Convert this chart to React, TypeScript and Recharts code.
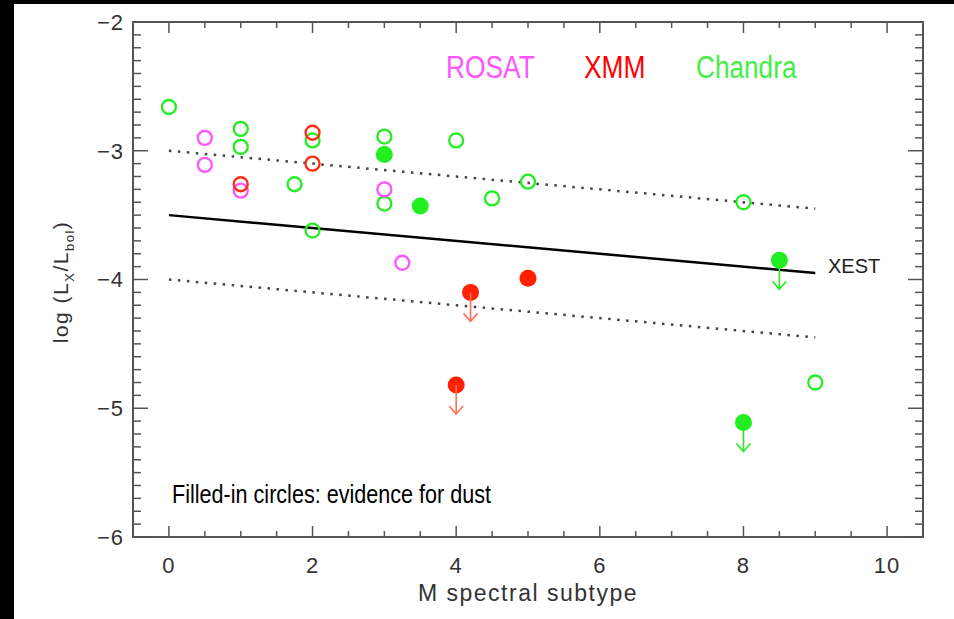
import React from "react";
import { ScatterChart, Scatter, XAxis, YAxis, ReferenceArea } from "recharts";

// axis ticks (labels at the majors, inward marks at every entry)
const xTicks = [0, 2, 4, 6, 8, 10];
const yTicks = [-6, -5, -4, -3, -2];
const xMinorTicks = Array.from({ length: 21 }, (_, i) => i * 0.5);
const yMinorTicks = Array.from({ length: 41 }, (_, i) => Math.round((-6 + i * 0.1) * 10) / 10);

// [subtype, log Lx/Lbol]  (filled series: third value 1 = upper limit arrow)
const rosatOpen: number[][] = [
  [0.5, -2.9],
  [0.5, -3.11],
  [1, -3.31],
  [3, -3.3],
  [3.25, -3.87],
];
const xmmOpen: number[][] = [
  [1, -3.26],
  [2, -2.86],
  [2, -3.1],
];
const xmmFilled: number[][] = [
  [4.2, -4.1, 1],
  [5, -3.99, 0],
  [4, -4.82, 1],
];
const chandraOpen: number[][] = [
  [0, -2.66],
  [1, -2.83],
  [1, -2.97],
  [1.75, -3.26],
  [2, -2.92],
  [2, -3.62],
  [3, -2.89],
  [3, -3.41],
  [4, -2.92],
  [4.5, -3.37],
  [5, -3.24],
  [8, -3.4],
  [9, -4.8],
];
const chandraFilled: number[][] = [
  [3, -3.03, 0],
  [3.5, -3.43, 0],
  [8.5, -3.85, 1],
  [8, -5.11, 1],
];

// XEST relation and its +-0.5 dex band
const xestLine = [
  [0, -3.5],
  [9, -3.95],
];
const xestUpper = [
  [0, -3.0],
  [9, -3.45],
];
const xestLower = [
  [0, -4.0],
  [9, -4.45],
];

const GREEN = "#22ee22";
const MAGENTA = "#ff55ff";
const RED = "#ff2a10";
const AX = "#555";

const W = 954;
const H = 619;
const MARGIN = { top: 22, right: 31, bottom: 52, left: 73 };
const Y_W = 60;
const X_H = 30;
const PLOT_L = MARGIN.left + Y_W;
const PLOT_R = W - MARGIN.right;
const PLOT_T = MARGIN.top;
const PLOT_B = H - MARGIN.bottom - X_H;

const toPts = (arr: number[][]) => arr.map((p) => ({ x: p[0], y: p[1], limit: p[2] === 1 }));

const openShape = (color: string) => (props: any) => (
  <circle cx={props.cx} cy={props.cy} r={7} fill="none" stroke={color} strokeWidth={2.3} />
);

const filledShape = (color: string, arrow: string) => (props: any) => {
  const { cx, cy } = props;
  return (
    <g>
      <circle cx={cx} cy={cy} r={8.5} fill={color} />
      {props.payload?.limit ? (
        <path
          d={`M${cx},${cy} L${cx},${cy + 29} M${cx - 7},${cy + 21} L${cx},${cy + 29} L${cx + 7},${cy + 21}`}
          fill="none"
          stroke={arrow}
          strokeWidth={1.6}
        />
      ) : null}
    </g>
  );
};

const noShape = () => <g />;

const minus = (v: number) => String(v).replace("-", "\u2212");

const labelFont = "Liberation Sans, Arial, sans-serif";

const XTick = (props: any) => {
  const { x, payload } = props;
  const v = payload.value;
  const major = xTicks.includes(v);
  const len = major ? 11 : 6;
  return (
    <g>
      <line x1={x} x2={x} y1={PLOT_B} y2={PLOT_B - len} stroke={AX} strokeWidth={1.5} />
      <line x1={x} x2={x} y1={PLOT_T} y2={PLOT_T + len} stroke={AX} strokeWidth={1.5} />
      {major ? (
        <text x={x} y={PLOT_B + 20} dy="0.71em" textAnchor="middle" fontSize={22} fill="#333" fontFamily={labelFont} letterSpacing={1}>
          {v}
        </text>
      ) : null}
    </g>
  );
};

const YTick = (props: any) => {
  const { y, payload } = props;
  const v = payload.value;
  const major = yTicks.includes(v);
  const len = major ? 15 : 8;
  return (
    <g>
      <line x1={PLOT_L} x2={PLOT_L + len} y1={y} y2={y} stroke={AX} strokeWidth={1.5} />
      <line x1={PLOT_R} x2={PLOT_R - len} y1={y} y2={y} stroke={AX} strokeWidth={1.5} />
      {major ? (
        <text x={PLOT_L - 9} y={y} dy="0.355em" textAnchor="end" fontSize={22} fill="#333" fontFamily={labelFont} letterSpacing={1}>
          {minus(v)}
        </text>
      ) : null}
    </g>
  );
};

export default function App() {
  return (
    <div style={{ position: "fixed", left: 0, top: 0, width: W, height: H, background: "#000" }}>
      <div style={{ position: "absolute", left: 14, top: 4, right: 0, bottom: 0, background: "#fff" }} />
      <div style={{ position: "absolute", left: 0, top: 0 }}>
        <ScatterChart width={W} height={H} margin={MARGIN}>
          <XAxis
            xAxisId="x"
            type="number"
            dataKey="x"
            domain={[-0.5, 10.5]}
            ticks={xMinorTicks}
            interval={0}
            allowDataOverflow
            height={X_H}
            tickLine={false}
            axisLine={false}
            tickSize={0}
            tickMargin={20}
            tick={XTick}
          />
          <YAxis
            yAxisId="y"
            type="number"
            dataKey="y"
            domain={[-6, -2]}
            ticks={yMinorTicks}
            interval={0}
            allowDataOverflow
            width={Y_W}
            tickLine={false}
            axisLine={false}
            tickSize={0}
            tickMargin={9}
            tick={YTick}
          />

          <ReferenceArea xAxisId="x" yAxisId="y" x1={-0.5} x2={10.5} y1={-6} y2={-2} fill="none" stroke={AX} strokeWidth={2} ifOverflow="visible" />

          <Scatter xAxisId="x" yAxisId="y" data={toPts(xestUpper)} line={{ stroke: "#444", strokeWidth: 2.5, strokeDasharray: "2.5 6.5" }} shape={noShape} isAnimationActive={false} />
          <Scatter xAxisId="x" yAxisId="y" data={toPts(xestLower)} line={{ stroke: "#444", strokeWidth: 2.5, strokeDasharray: "2.5 6.5" }} shape={noShape} isAnimationActive={false} />
          <Scatter xAxisId="x" yAxisId="y" data={toPts(xestLine)} line={{ stroke: "#000", strokeWidth: 2.5 }} shape={noShape} isAnimationActive={false} />

          <Scatter xAxisId="x" yAxisId="y" data={toPts(chandraOpen)} shape={openShape(GREEN)} isAnimationActive={false} />
          <Scatter xAxisId="x" yAxisId="y" data={toPts(rosatOpen)} shape={openShape(MAGENTA)} isAnimationActive={false} />
          <Scatter xAxisId="x" yAxisId="y" data={toPts(xmmOpen)} shape={openShape(RED)} isAnimationActive={false} />
          <Scatter xAxisId="x" yAxisId="y" data={toPts(chandraFilled)} shape={filledShape(GREEN, GREEN)} isAnimationActive={false} />
          <Scatter xAxisId="x" yAxisId="y" data={toPts(xmmFilled)} shape={filledShape("#ff2200", "#ff7055")} isAnimationActive={false} />
        </ScatterChart>
      </div>

      {/* instrument legend */}
      <div style={{ position: "absolute", top: 48, left: 446, fontFamily: labelFont, fontSize: 31, lineHeight: "40px", whiteSpace: "nowrap" }}>
        <span style={{ color: MAGENTA, position: "absolute", left: 0, transform: "scaleX(0.85)", transformOrigin: "left" }}>ROSAT</span>
        <span style={{ color: "#ff0000", position: "absolute", left: 138, transform: "scaleX(0.85)", transformOrigin: "left" }}>XMM</span>
        <span style={{ color: "#44ee44", position: "absolute", left: 250, transform: "scaleX(0.845)", transformOrigin: "left" }}>Chandra</span>
      </div>

      <div style={{ position: "absolute", left: 828, top: 255, fontFamily: labelFont, fontSize: 20, color: "#222" }}>XEST</div>

      <div style={{ position: "absolute", left: 172, top: 479, fontFamily: labelFont, fontSize: 26, color: "#000", whiteSpace: "nowrap", transform: "scaleX(0.83)", transformOrigin: "left" }}>
        Filled-in circles: evidence for dust
      </div>

      <div style={{ position: "absolute", left: 528, top: 593, transform: "translate(-50%, -50%)", fontFamily: labelFont, fontSize: 23, letterSpacing: 1.5, color: "#333", whiteSpace: "nowrap" }}>
        M spectral subtype
      </div>

      <div style={{ position: "absolute", left: 63, top: 282, transform: "translate(-50%, -50%) rotate(-90deg)", fontFamily: labelFont, fontSize: 21, letterSpacing: 1.5, color: "#333", whiteSpace: "nowrap" }}>
        log (L<sub style={{ fontSize: 13 }}>X</sub>/L<sub style={{ fontSize: 13 }}>bol</sub>)
      </div>
    </div>
  );
}
